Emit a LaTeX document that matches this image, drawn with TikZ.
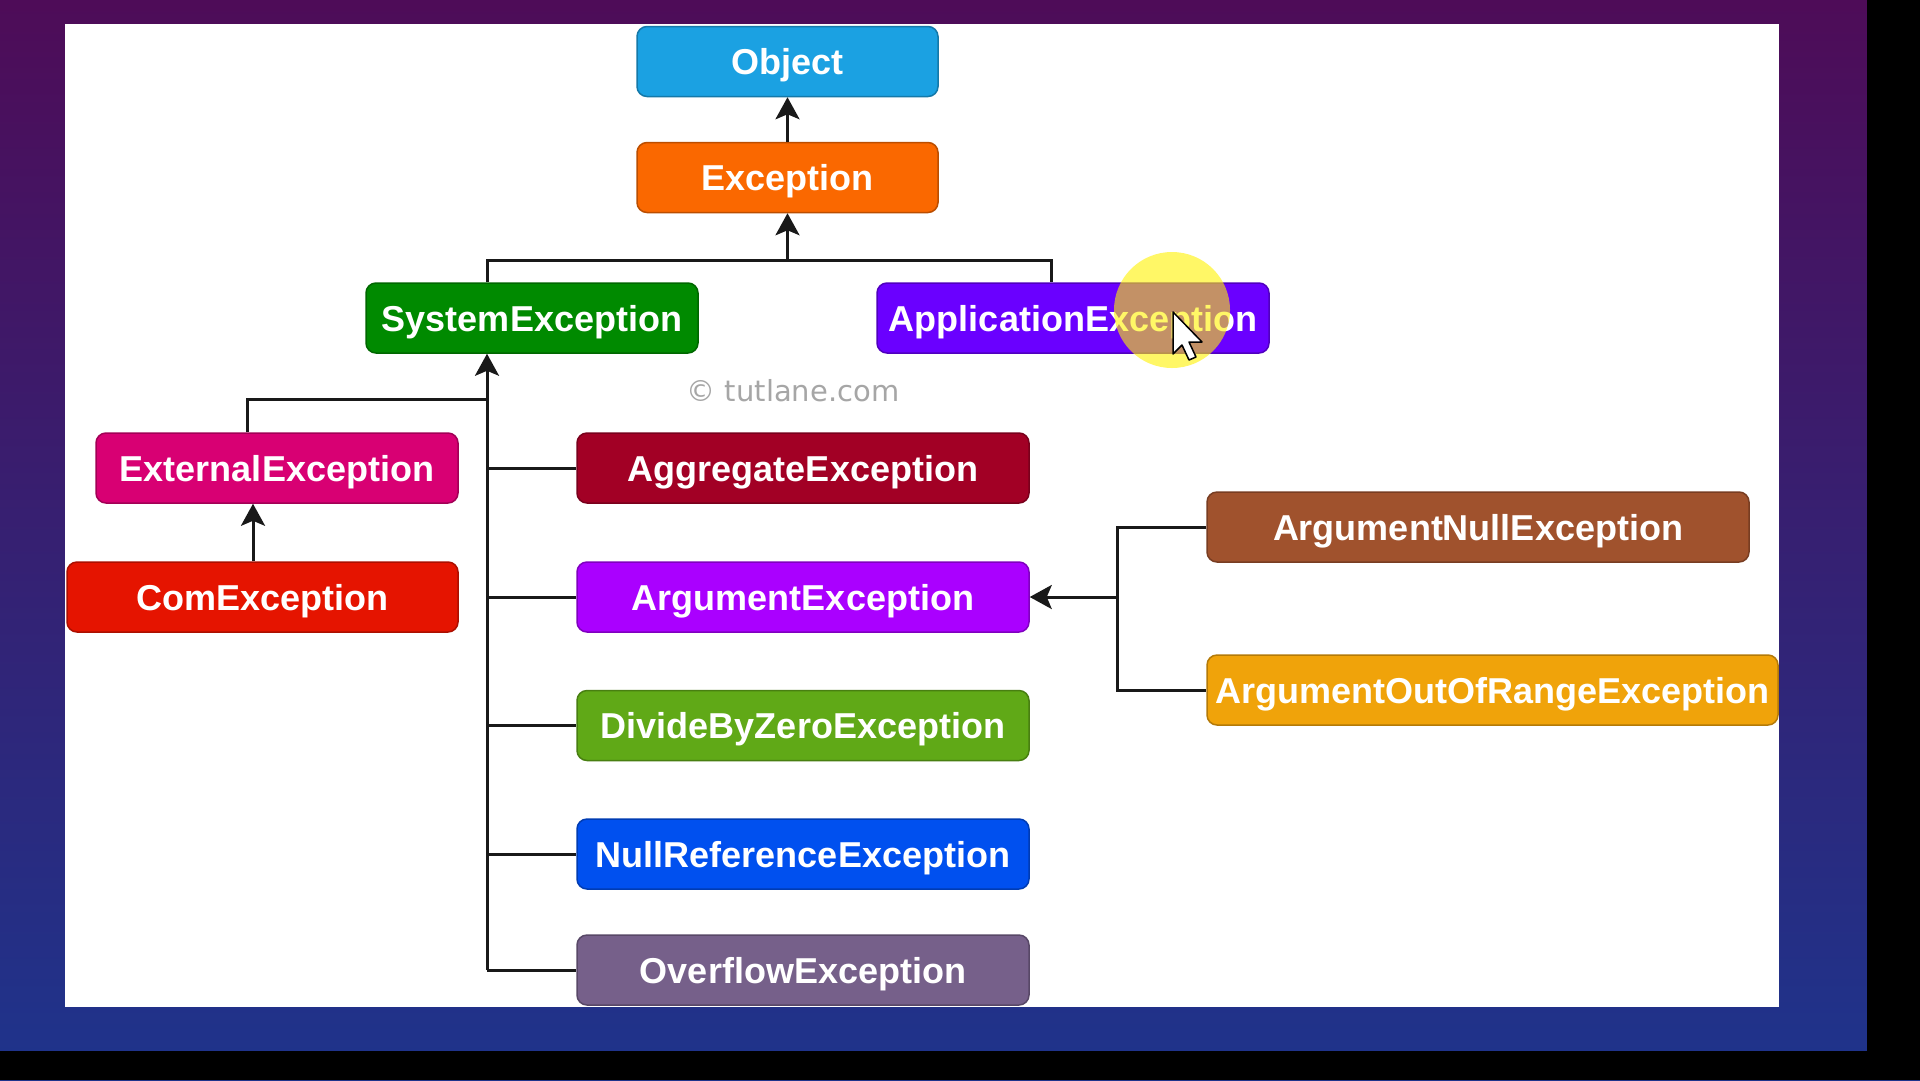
\documentclass[tikz,border=0pt]{standalone}
\usepackage{fontspec}
\setmainfont{Liberation Sans}
\newfontfamily\markfont{DejaVu Sans}
\usepackage{tikz}
\usetikzlibrary{arrows.meta}

\definecolor{objblue}{HTML}{1BA1E2}
\definecolor{excorange}{HTML}{FA6800}
\definecolor{sysgreen}{HTML}{008A00}
\definecolor{appviolet}{HTML}{6A00FF}
\definecolor{extmagenta}{HTML}{D80073}
\definecolor{comred}{HTML}{E51400}
\definecolor{aggcrimson}{HTML}{A20025}
\definecolor{argpurple}{HTML}{AA00FF}
\definecolor{divgreen}{HTML}{60A917}
\definecolor{nulblue}{HTML}{0050EF}
\definecolor{ovfmauve}{HTML}{76608A}
\definecolor{nullbrown}{HTML}{A0522D}
\definecolor{oorgold}{HTML}{F0A30A}
\definecolor{slidetop}{RGB}{78,12,88}
\definecolor{slidebottom}{RGB}{30,52,140}

\begin{document}
\begin{tikzpicture}[x=1pt,y=-1pt,
        box/.style={fill=#1, draw=#1!75!black, line width=1.5pt, rounded corners=10pt,
            minimum height=70pt, inner sep=0pt, text=white, text height=26pt, text depth=0pt,
            font=\fontsize{36}{40}\selectfont\bfseries},
        link/.style={line width=3pt, draw=black!90},
        up/.style={link, -{Stealth[length=22pt,width=24pt,inset=5pt]}}]
    \useasboundingbox (0,0) rectangle (1920,1080);
    % slide background and white panel
    \fill[top color=slidetop, bottom color=slidebottom] (0,0) rectangle (1920,1080);
    \fill[black] (1867,0) rectangle (1920,1080);
    \fill[black] (0,1051) rectangle (1920,1080);
    \fill[white] (65,24) rectangle (1779,1007);

    % classes
    \node[box=objblue, minimum width=301pt] (obj) at (787.5,61.5) {Object};
    \node[box=excorange, minimum width=301pt] (exc) at (787.5,177.5) {Exception};
    \node[box=sysgreen, minimum width=332pt] (sys) at (532,318) {SystemException};
    \node[box=appviolet, minimum width=392pt] (app) at (1073,318) {ApplicationException};
    \node[box=extmagenta, minimum width=362pt] (ext) at (277,468) {ExternalException};
    \node[box=comred, minimum width=391pt] (com) at (262.5,597) {ComException};
    \node[box=aggcrimson, minimum width=452pt] (agg) at (803,468) {AggregateException};
    \node[box=argpurple, minimum width=452pt] (arg) at (803,597) {ArgumentException};
    \node[box=divgreen, minimum width=452pt] (div) at (803,725.5) {DivideByZeroException};
    \node[box=nulblue, minimum width=452pt] (nul) at (803,854) {NullReferenceException};
    \node[box=ovfmauve, minimum width=452pt] (ovf) at (803,970) {OverflowException};
    \node[box=nullbrown, minimum width=542pt] (argnull) at (1478,527) {ArgumentNullException};
    \node[box=oorgold, minimum width=571pt] (argoor) at (1492.5,690) {ArgumentOutOfRangeException};

    \node[font=\markfont\fontsize{29}{32}\selectfont, text=gray!70] (mark) at (793,391) {© tutlane.com};

    % connectors
    \draw[up] (exc.north) -- (obj.south);
    \coordinate (sysup) at (487,260);
    \coordinate (appup) at (1051,260);
    \draw[link] (sys.north -| sysup) -- (sysup) -- (appup) -- (app.north -| appup);
    \draw[up] (exc.south |- sysup) -- (exc.south);
    \coordinate (trunk) at (487,970);
    \draw[up] (trunk) -- (sys.south -| trunk);
    \foreach \n in {agg,arg,div,nul,ovf}
        \draw[link] (\n.west -| trunk) -- (\n.west);
    \coordinate (extjoin) at (247,399);
    \draw[link] (ext.north -| extjoin) -- (extjoin) -- (trunk |- extjoin);
    \coordinate (comup) at (253,0);
    \draw[up] (com.north -| comup) -- (ext.south -| comup);
    \coordinate (argjoin) at (1117,597);
    \draw[up] (argjoin) -- (arg.east);
    \draw[link] (argnull.west) -| (argjoin) |- (argoor.west);

    % pointer highlight
    \fill[yellow, opacity=0.6] (1172,310) circle[radius=58];
    \draw[fill=white, line width=1.5pt, line join=round] (1173,312) -- ++(0,42) -- ++(9,-9)
        -- ++(7,15) -- ++(7,-3) -- ++(-7,-15) -- ++(13,0) -- cycle;
\end{tikzpicture}
\end{document}
